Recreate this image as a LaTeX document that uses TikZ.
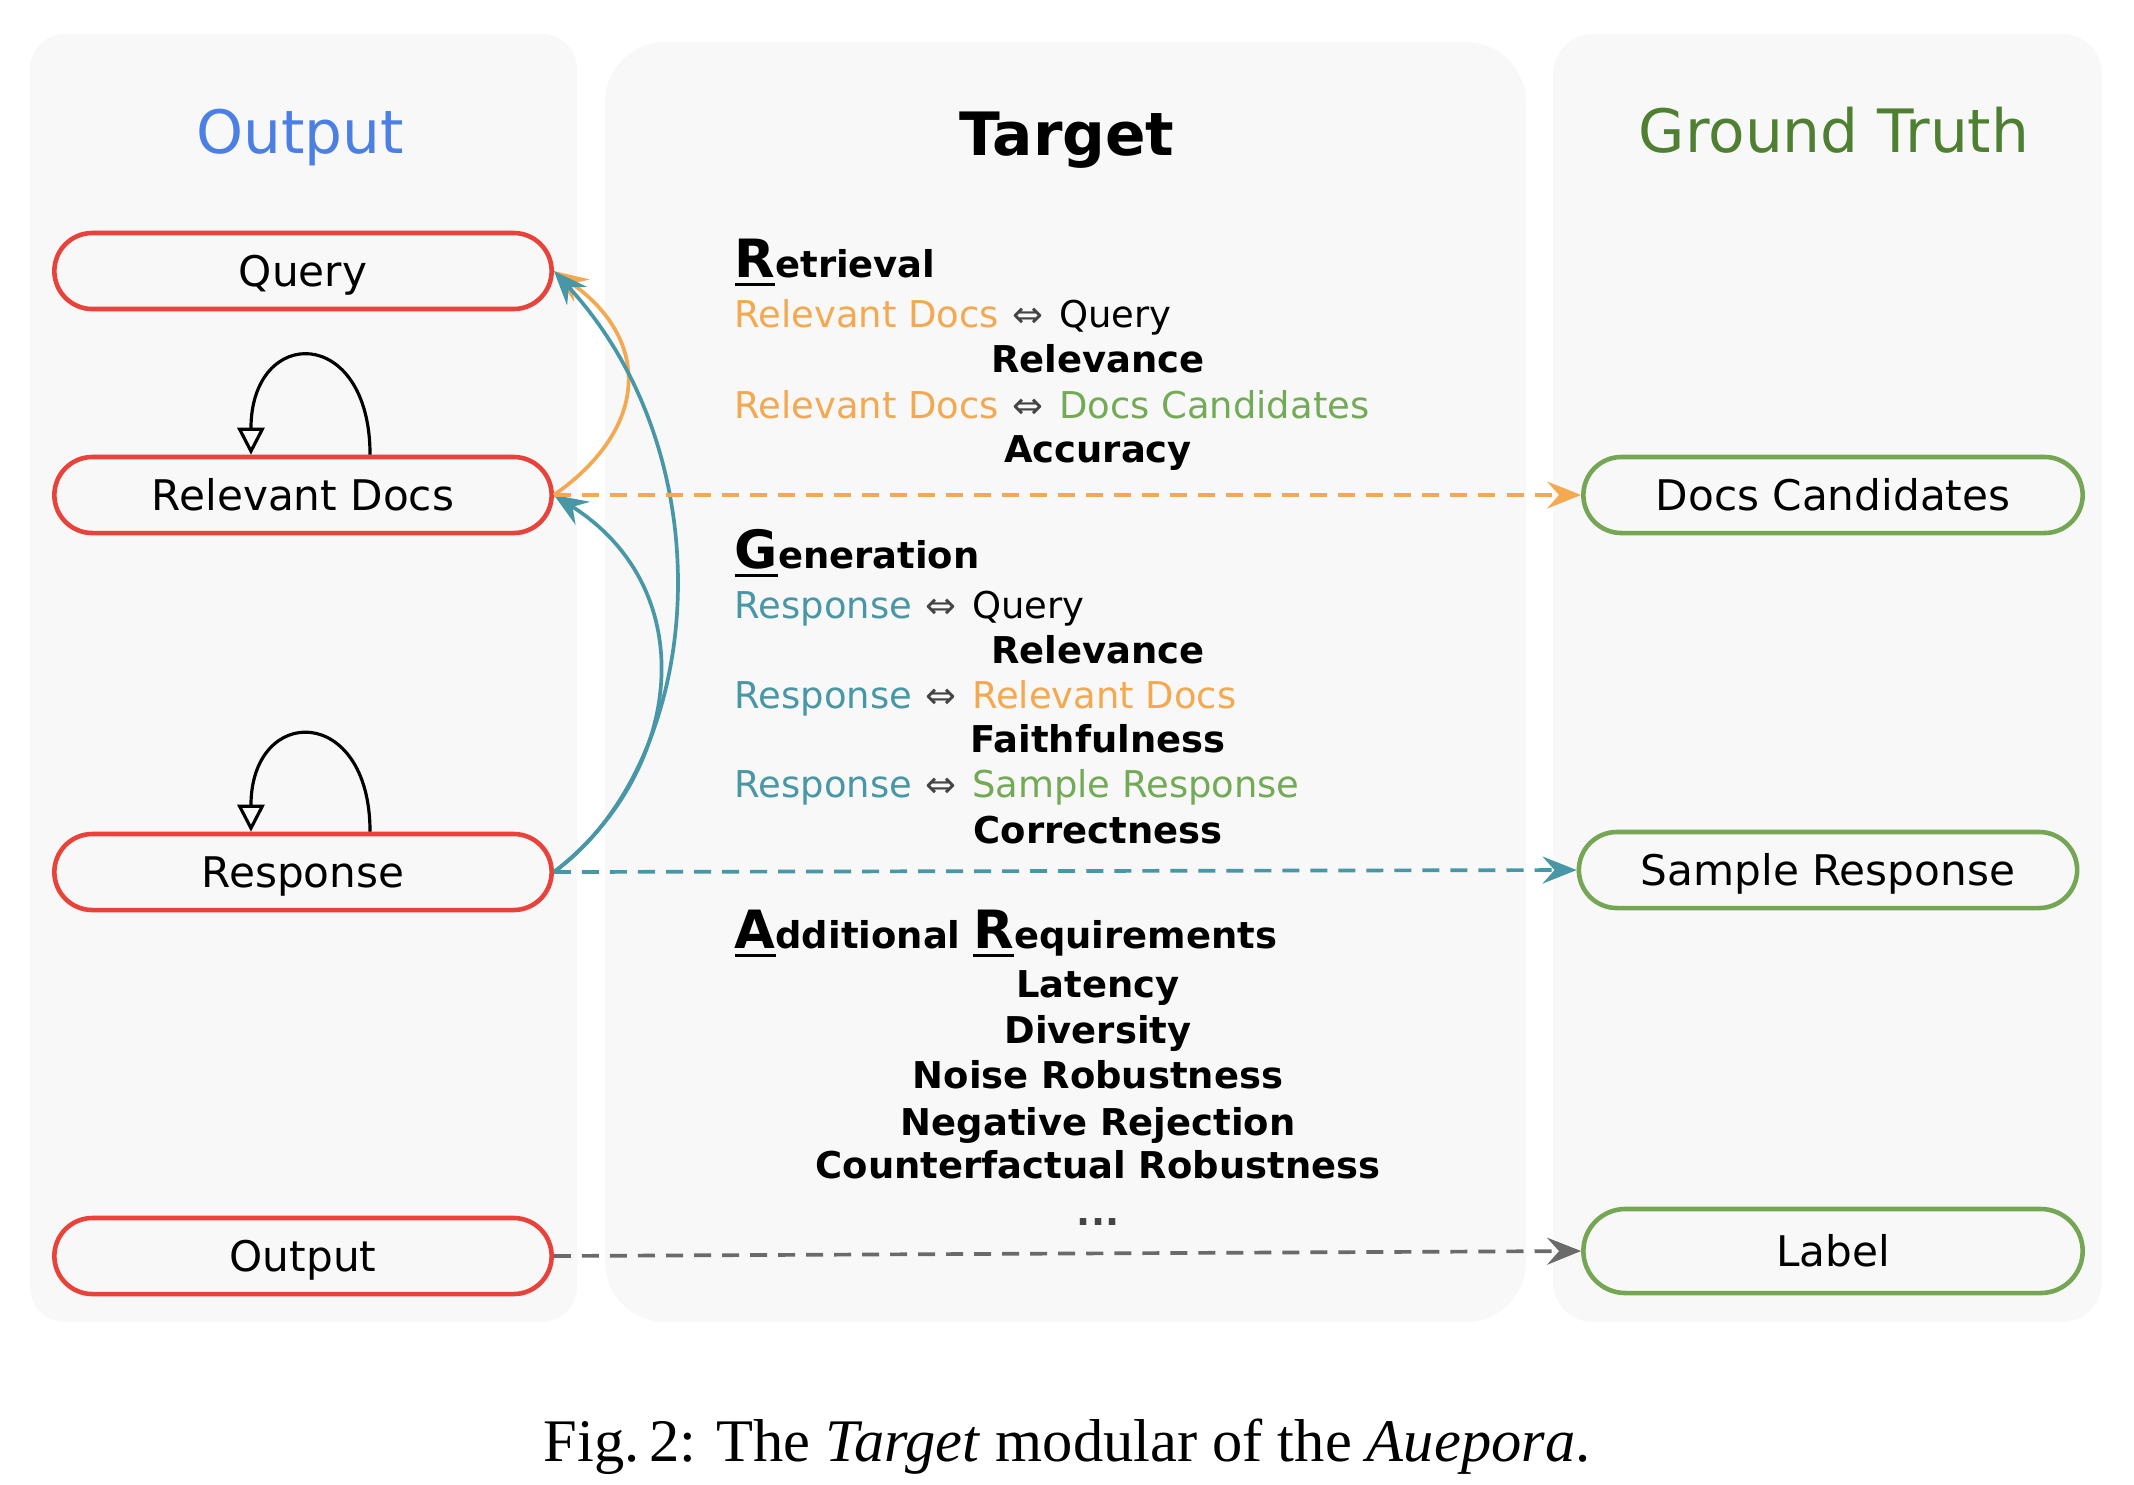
\documentclass[tikz,border=0pt]{standalone}
\usepackage{fontspec}
\setmainfont{DejaVu Sans}
\newfontfamily\captionfont{Liberation Serif}
\usetikzlibrary{arrows.meta}

\definecolor{panelgray}{HTML}{F8F8F8}
\definecolor{outred}{HTML}{E8423A}
\definecolor{truthgreen}{HTML}{74A653}
\definecolor{titlegreen}{HTML}{4F7F31}
\definecolor{titleblue}{HTML}{4C7FE3}
\definecolor{docorange}{HTML}{F4A84F}
\definecolor{respteal}{HTML}{4897A6}
\definecolor{gtgreen}{HTML}{72AA55}
\definecolor{linkgray}{HTML}{6A6A6A}
\definecolor{iffgray}{HTML}{444444}

\tikzset{panel/.style={fill=panelgray,rounded corners=#1},
  outbox/.style={draw=outred,line width=1.3pt,rounded corners=0.38cm,minimum width=4.97cm,minimum height=0.76cm,inner sep=0pt,font=\fontsize{12}{14}\selectfont,text height=8.75pt,text depth=0pt},
  truthbox/.style={outbox,draw=truthgreen},
  coltitle/.style={anchor=base,font=\fontsize{17}{20}\selectfont},
  pair/.style={anchor=base west,inner sep=0pt,font=\fontsize{10.5}{12}\selectfont},
  heading/.style={pair,font=\fontsize{10.5}{12}\selectfont\bfseries},
  metric/.style={anchor=base,inner sep=0pt,font=\fontsize{10.5}{12}\selectfont\bfseries},
  link/.style={line width=1.05pt,-{Stealth[length=0.34cm,width=0.27cm,inset=0.12cm]}},
  dashlink/.style={link,dash pattern=on 0.17cm off 0.11cm},
  selfloop/.style={line width=0.9pt,-{Triangle[open,length=0.27cm,width=0.27cm]}}}

% big underlined first letter of a heading
\newcommand{\headinit}[1]{{\fontsize{15}{15}\selectfont\setbox0\hbox{#1}\rlap{\rule[-2.6pt]{\wd0}{1pt}}\box0}}
\newcommand{\pairsign}{\kern0.6pt\textcolor{iffgray}{⇔}\kern1pt}

\begin{document}
\begin{tikzpicture}[x=0.01cm,y=-0.01cm]
      \pgfmathsetmacro{\leftx}{734}
      \pgfmathsetmacro{\midx}{1098}
      \useasboundingbox (0,0) rectangle (2134,1484);
      % three columns
      \fill[panel=0.35cm] (30,34) rectangle (577,1322);
      \fill[panel=0.6cm] (605,42) rectangle (1526,1322);
      \fill[panel=0.4cm] (1553,34) rectangle (2102,1322);
      \node[coltitle,text=titleblue] (toutput) at (300,153) {Output};
      \node[coltitle,font=\fontsize{17}{20}\selectfont\bfseries] (ttarget) at (1067,155) {Target};
      \node[coltitle,text=titlegreen] (ttruth) at (1834,152) {Ground Truth};

      % output side
      \node[outbox] (q) at (303,271) {Query};
      \node[outbox] (rd) at (303,495) {Relevant Docs};
      \node[outbox] (resp) at (303,872) {Response};
      \node[outbox] (out) at (303,1256) {Output};

      % ground truth side
      \node[truthbox,minimum width=4.99cm] (dc) at (1833,495) {Docs Candidates};
      \node[truthbox,minimum width=4.98cm] (sr) at (1828,870) {Sample Response};
      \node[truthbox,minimum width=4.99cm,minimum height=0.84cm,rounded corners=0.42cm] (lab) at (1833,1251) {Label};

      % target text
      \node[heading] (ret) at (\leftx,277) {\headinit{R}etrieval};
      \node[pair] (ret1) at (\leftx,327) {\textcolor{docorange}{Relevant Docs} \pairsign{} Query};
      \node[metric] (ret1m) at (\midx,372) {Relevance};
      \node[pair] (ret2) at (\leftx,418) {\textcolor{docorange}{Relevant Docs} \pairsign{} \textcolor{gtgreen}{Docs Candidates}};
      \node[metric] (ret2m) at (\midx,462) {Accuracy};

      \node[heading] (gen) at (\leftx,568) {\headinit{G}eneration};
      \node[pair] (gen1) at (\leftx,618) {\textcolor{respteal}{Response} \pairsign{} Query};
      \node[metric] (gen1m) at (\midx,663) {Relevance};
      \node[pair] (gen2) at (\leftx,708) {\textcolor{respteal}{Response} \pairsign{} \textcolor{docorange}{Relevant Docs}};
      \node[metric] (gen2m) at (\midx,752) {Faithfulness};
      \node[pair] (gen3) at (\leftx,797) {\textcolor{respteal}{Response} \pairsign{} \textcolor{gtgreen}{Sample Response}};
      \node[metric] (gen3m) at (\midx,843) {Correctness};

      \node[heading] (add) at (\leftx,948) {\headinit{A}dditional \headinit{R}equirements};
      \node[metric] (add1) at (\midx,997) {Latency};
      \node[metric] (add2) at (\midx,1043) {Diversity};
      \node[metric] (add3) at (\midx,1088) {Noise Robustness};
      \node[metric] (add4) at (\midx,1135) {Negative Rejection};
      \node[metric] (add5) at (\midx,1178) {Counterfactual Robustness};
      \node[metric,text=iffgray] (add6) at (\midx,1225) {...};

      % links
      \draw[selfloop] ([xshift=0.67cm]rd.north) .. controls +(0,-130) and +(0,-130) .. ([xshift=-0.52cm]rd.north);
      \draw[selfloop] ([xshift=0.67cm]resp.north) .. controls +(0,-128) and +(0,-128) .. ([xshift=-0.52cm]resp.north);
      \draw[link,docorange] (rd.east) to[out=35,in=-35,looseness=1.35] (q.east);
      \draw[link,respteal] (resp.east) .. controls +(150,-110) and +(175,190) .. (q.east);
      \draw[link,respteal] (resp.east) .. controls +(130,-100) and +(150,95) .. (rd.east);
      \draw[dashlink,docorange] (rd.east) -- (dc.west);
      \draw[dashlink,respteal] (resp.east) -- (sr.west);
      \draw[dashlink,linkgray] (out.east) -- (lab.west);

      \node[anchor=base,font=\captionfont\fontsize{17.2}{20}\selectfont] (cap) at (1067,1461) {Fig.\,2: The \textit{Target} modular of the \textit{Auepora}.};
    \end{tikzpicture}
\end{document}
